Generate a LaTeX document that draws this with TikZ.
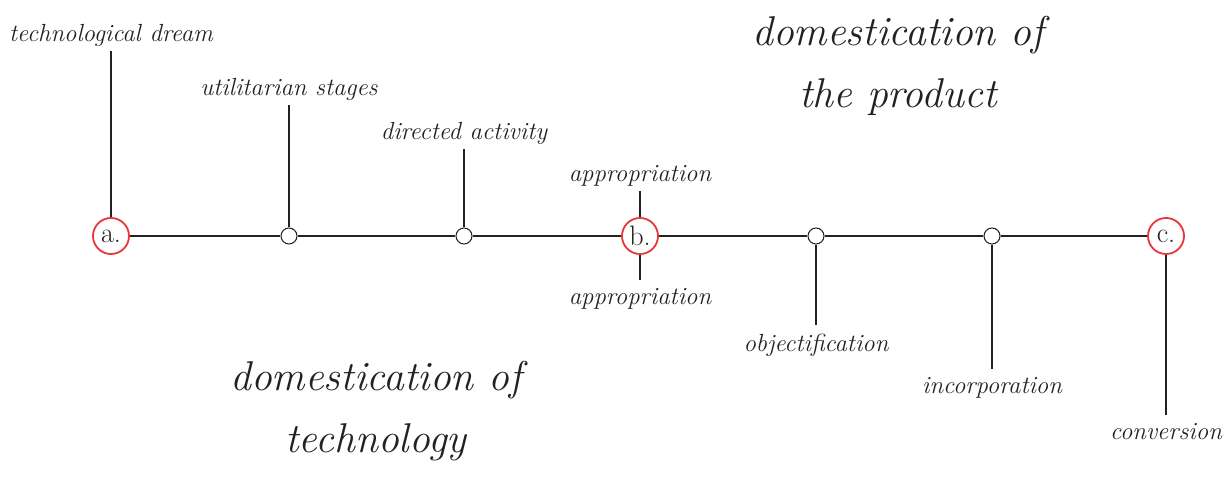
\documentclass[tikz,border=0pt]{standalone}
\usepackage{amsmath,amssymb}
\usepackage{tikz}
\definecolor{ringred}{RGB}{232,56,61}
\definecolor{ink}{RGB}{34,34,34}

\begin{document}
\begin{tikzpicture}[x=0.025cm,y=-0.025cm,line width=0.75pt,color=ink]
	\tikzstyle{every node}+=[inner sep=0pt]
	\tikzstyle{stage}=[circle,draw=ringred,fill=white,line width=1.3pt,minimum size=0.9cm,font=\fontsize{20}{22}\selectfont]
	\tikzstyle{dot}=[circle,draw=ink,fill=white,minimum size=0.4cm]
	\tikzstyle{tag}=[inner sep=3pt,font=\fontsize{17.6}{20}\selectfont\itshape]
	\tikzstyle{tag below}=[tag,inner sep=6pt]
	\tikzstyle{title}=[align=center,font=\fontsize{29.6}{44}\selectfont\itshape]
	\useasboundingbox (0,0) rectangle (1229,477);
	\node [stage] (na) at (111,236) {a.};
	\node [dot] (s1) at (289,236) {};
	\node [dot] (s2) at (464,236) {};
	\node [stage] (nb) at (640,236) {b.};
	\node [dot] (s3) at (816,236) {};
	\node [dot] (s4) at (992,236) {};
	\node [stage] (nc) at (1166,236) {c.};
	\node [tag] (dream) at (111,35) {technological dream};
	\node [tag] (stages) at (289,89) {utilitarian stages};
	\node [tag] (activity) at (464,133) {directed activity};
	\node [tag] (appUp) at (640,176) {appropriation};
	\node [tag below] (appDown) at (640,299) {appropriation};
	\node [tag below] (objectif) at (816,345) {objectification};
	\node [tag below] (incorp) at (992,388) {incorporation};
	\node [tag below] (conv) at (1166,432) {conversion};
	\node [title] (product) at (898,66) {domestication of\\the product};
	\node [title] (technology) at (376,411) {domestication of\\technology};
	\draw [ink] (na) -- (s1) -- (s2) -- (nb) -- (s3) -- (s4) -- (nc);
	\draw [ink] (na) -- (dream);
	\draw [ink] (s1) -- (stages);
	\draw [ink] (s2) -- (activity);
	\draw [ink] (nb) -- (appUp);
	\draw [ink] (nb) -- (appDown);
	\draw [ink] (s3) -- (objectif);
	\draw [ink] (s4) -- (incorp);
	\draw [ink] (nc) -- (conv);
\end{tikzpicture}
\end{document}
